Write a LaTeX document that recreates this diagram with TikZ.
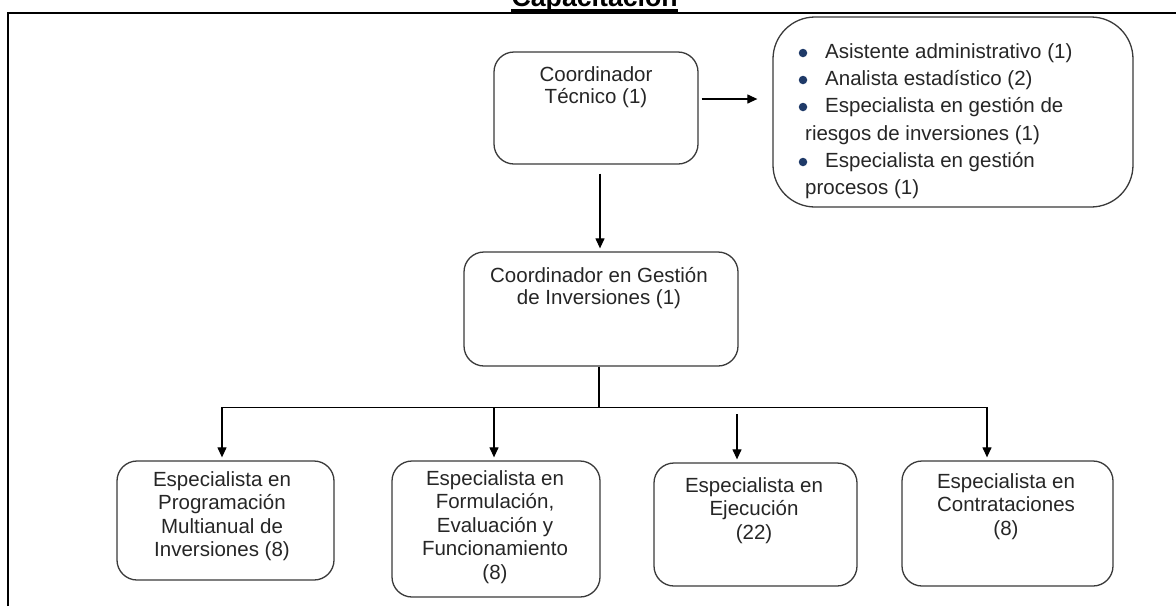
\documentclass[tikz,border=0pt]{standalone}
\usepackage{fontspec}
\setmainfont{Liberation Sans}
\usetikzlibrary{arrows.meta,calc}
\definecolor{bulblue}{HTML}{1F3A68}
\definecolor{txtgray}{HTML}{262626}
\definecolor{boxgray}{HTML}{3A3A3A}
\begin{document}
\begin{tikzpicture}[x=1pt,y=-1pt,
  boxst/.style={draw=boxgray, line width=1.3pt, rounded corners=20pt, inner sep=0pt, fill=white},
  txt/.style={font=\fontsize{20.5}{22.3}\selectfont, text=txtgray, align=center, anchor=base, inner sep=0pt},
  txtb/.style={font=\fontsize{20.5}{23.5}\selectfont, text=txtgray, align=center, anchor=base, inner sep=0pt},
  arr/.style={draw=black, line width=1.2pt, -{Triangle[length=10pt,width=9pt]}},
  ln/.style={draw=black, line width=1.2pt},
  bul/.style={circle, fill=bulblue, inner sep=0pt, minimum size=8.5pt},
  btxt/.style={font=\fontsize{20.5}{22}\selectfont, text=txtgray, anchor=base west, inner sep=0pt}]
\useasboundingbox (0,0) rectangle (1176,606);
% title and frame
\draw[line width=1.6pt] (8,606) -- (8,13) -- (1176,13);
\node[font=\bfseries\fontsize{26.7}{28}\selectfont, anchor=base, inner sep=0pt] (title) at (594.7,6) {Capacitación};
\draw[line width=4pt] ([yshift=-4.5pt]title.base west) -- ([yshift=-4.5pt]title.base east);
% boxes
\node[boxst, minimum width=204pt, minimum height=112pt] (ct) at (596,108) {};
\node[boxst, minimum width=274pt, minimum height=114pt] (cg) at (601,309) {};
\node[boxst, rounded corners=42pt, minimum width=360pt, minimum height=190pt] (bl) at (953,112) {};
\node[boxst, minimum width=217pt, minimum height=119pt] (b1) at (225.5,520.5) {};
\node[boxst, minimum width=208pt, minimum height=136pt] (b2) at (496,529) {};
\node[boxst, minimum width=203pt, minimum height=123pt] (b3) at (755.5,524.5) {};
\node[boxst, minimum width=211pt, minimum height=125pt] (b4) at (1007.5,523.5) {};
% texts (anchor base = baseline of the last line)
\node[txt] (tct) at (596,103.3) {Coordinador\\Técnico (1)};
\node[txt] (tcg) at (599,304.3) {Coordinador en Gestión\\de Inversiones (1)};
\node[txtb] (tb1) at (222,556.5) {Especialista en\\Programación\\Multianual de\\Inversiones (8)};
\node[txtb] (tb2) at (495,579) {Especialista en\\Formulación,\\Evaluación y\\Funcionamiento\\(8)};
\node[txtb] (tb3) at (754,539) {Especialista en\\Ejecución\\(22)};
\node[txtb] (tb4) at (1006,535) {Especialista en\\Contrataciones\\(8)};
% bullet list
\node[bul] (d1) at (803,53) {};
\node[btxt] (l1) at (825,58) {Asistente administrativo (1)};
\node[bul] (d2) at (803,80) {};
\node[btxt] (l2) at (825,85) {Analista estadístico (2)};
\node[bul] (d3) at (803,107) {};
\node[btxt] (l3) at (825,112) {Especialista en gestión de};
\node[btxt] (l4) at (805,140) {riesgos de inversiones (1)};
\node[bul] (d4) at (803,162) {};
\node[btxt] (l5) at (825,167) {Especialista en gestión};
\node[btxt] (l6) at (805,194) {procesos (1)};
% connectors
\draw[arr] ([xshift=3pt,yshift=9pt]ct.east) -- ([xshift=-15pt,yshift=13pt]bl.west);
\draw[arr] ([xshift=4pt,yshift=-9pt]ct.south) -- ([xshift=-1pt,yshift=3pt]cg.north);
\coordinate (j) at ([xshift=-2pt,yshift=-41pt]cg.south);
\draw[ln] ([xshift=-2pt]cg.south) -- (j);
\draw[arr] (j) -| ([xshift=-3.5pt,yshift=3pt]b1.north);
\draw[arr] (j) -| ([xshift=-2pt,yshift=3pt]b2.north);
\draw[arr] (j) -| ([xshift=-20.5pt,yshift=3pt]b4.north);
\draw[arr] ([xshift=-18.5pt,yshift=48pt]b3.north) -- ([xshift=-18.5pt,yshift=3pt]b3.north);
\end{tikzpicture}
\end{document}
